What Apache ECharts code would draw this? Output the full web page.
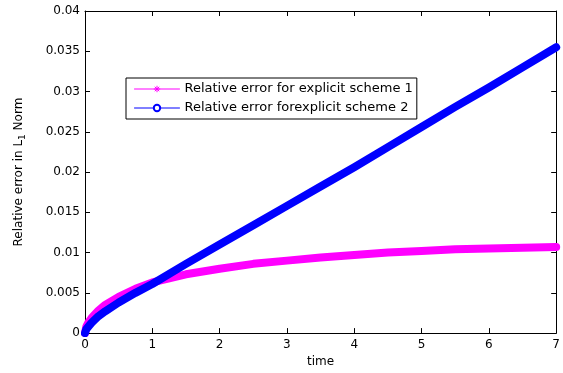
<!DOCTYPE html>
<html><head><meta charset="utf-8">
<script src="https://cdn.jsdelivr.net/npm/echarts@6/dist/echarts.min.js"></script>
<style>html,body{margin:0;padding:0;background:#fff}#c{width:563px;height:373px}</style>
</head><body><div id="c"></div>
<script>
const times = [0, 0.02, 0.05, 0.1, 0.2, 0.3, 0.5, 0.75, 1, 1.5, 2, 2.5, 3, 3.5, 4, 4.5, 5, 5.5, 6, 6.5, 7];
const scheme1 = [0, 0.0008, 0.0013, 0.0019, 0.0028, 0.0035, 0.0045, 0.0055, 0.0063, 0.0073, 0.0080, 0.0086, 0.0090, 0.0094, 0.0097, 0.0100, 0.0102, 0.0104, 0.0105, 0.0106, 0.0107];
const scheme2 = [0, 0.0005, 0.0008, 0.0013, 0.0021, 0.0027, 0.0038, 0.0050, 0.0061, 0.0086, 0.0110, 0.0134, 0.0158, 0.0182, 0.0206, 0.0231, 0.0256, 0.0281, 0.0305, 0.0330, 0.0355];
const xTicks = [0, 1, 2, 3, 4, 5, 6, 7];
const yTicks = ['0', '0.005', '0.01', '0.015', '0.02', '0.025', '0.03', '0.035', '0.04'];
const names = ['Relative error for explicit scheme 1', 'Relative error forexplicit scheme 2'];

const FONT = 'DejaVu Sans';
const chart = echarts.init(document.getElementById('c'));
const axisCommon = {
  axisLine: {show: true, onZero: false, lineStyle: {color: '#000', width: 1}},
  axisTick: {show: true, inside: true, length: 5, lineStyle: {color: '#000'}},
  splitLine: {show: false}
};
const star = 'path://M0,-10L0,10M-10,0L10,0M-7,-7L7,7M-7,7L7,-7';
chart.setOption({
  animation: false,
  textStyle: {fontFamily: FONT},
  grid: {left: 85, right: 4, top: 11, bottom: 37, containLabel: false},
  legend: {
    orient: 'vertical', left: 126, top: 78,
    backgroundColor: '#fff', borderColor: '#000', borderWidth: 1,
    padding: [3, 4, 3, 8], itemGap: 3, itemWidth: 45, itemHeight: 8,
    textStyle: {fontFamily: FONT, fontSize: 13, color: '#000', lineHeight: 16},
    data: [
      {name: names[0], itemStyle: {color: '#ff00ff', borderColor: '#ff00ff', borderWidth: 1}, lineStyle: {width: 1, color: '#ff00ff'}},
      {name: names[1], itemStyle: {color: '#0000ff', borderColor: '#0000ff', borderWidth: 1}, lineStyle: {width: 1, color: '#0000ff'}}
    ]
  },
  xAxis: [
    Object.assign({}, axisCommon, {
      type: 'value', min: 0, max: 7, interval: 1,
      name: 'time', nameLocation: 'middle', nameGap: 22,
      nameTextStyle: {fontFamily: FONT, fontSize: 12, color: '#000'},
      axisLabel: {color: '#000', fontSize: 12, fontFamily: FONT, margin: 6,
        formatter: v => xTicks.indexOf(v) >= 0 ? String(v) : ''}
    }),
    Object.assign({}, axisCommon, {
      type: 'value', min: 0, max: 7, interval: 1, position: 'top',
      axisLabel: {show: false}
    })
  ],
  yAxis: [
    Object.assign({}, axisCommon, {
      type: 'value', min: 0, max: 0.04, interval: 0.005,
      name: 'Relative error in L{sub|1} Norm', nameLocation: 'middle', nameGap: 60, nameRotate: 90,
      nameTextStyle: {fontFamily: FONT, fontSize: 12, color: '#000',
        rich: {sub: {fontSize: 9, fontFamily: FONT, color: '#000', padding: [0, 0, -8, 0]}}},
      axisLabel: {color: '#000', fontSize: 12, fontFamily: FONT, margin: 5,
        formatter: (v) => yTicks[Math.round(v / 0.005)]}
    }),
    Object.assign({}, axisCommon, {
      type: 'value', min: 0, max: 0.04, interval: 0.005, position: 'right',
      axisLabel: {show: false}
    })
  ],
  series: [
    {name: names[0], type: 'line', symbol: star, showSymbol: false, smooth: false,
     data: times.map((t, i) => [t, scheme1[i]]),
     lineStyle: {color: '#ff00ff', width: 8, join: 'round', cap: 'round'}, itemStyle: {color: '#ff00ff', borderColor: '#ff00ff'}, z: 2},
    {name: names[1], type: 'line', symbol: 'emptyCircle', showSymbol: false, smooth: false,
     data: times.map((t, i) => [t, scheme2[i]]),
     lineStyle: {color: '#0000ff', width: 8, join: 'round', cap: 'round'}, itemStyle: {color: '#0000ff'}, z: 3}
  ]
});
</script></body></html>
